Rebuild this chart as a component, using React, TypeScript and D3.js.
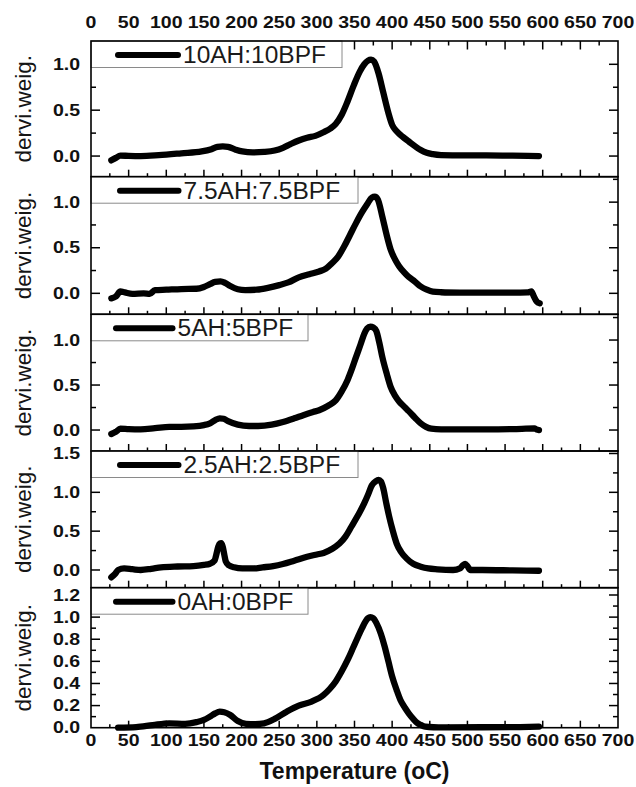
import React from 'react';
import * as d3 from 'd3';

// ---------- data ----------
const seriesNames = ['10AH:10BPF', '7.5AH:7.5BPF', '5AH:5BPF', '2.5AH:2.5BPF', '0AH:0BPF'];

const xTickLabels = [0, 50, 100, 150, 200, 250, 300, 350, 400, 450, 500, 550, 600, 650, 700];

const t10 = [27, 33, 39, 50, 66, 90, 120, 147, 160, 168, 175, 182, 192, 201, 215, 230, 244, 255, 265, 276, 287, 298, 309, 318, 325, 333, 341, 349, 357, 363, 368, 372, 376, 382, 388, 395, 400, 406, 414, 422, 430, 438, 446, 454, 465, 480, 525, 560, 595];
const v10 = [-0.047, -0.02, 0.005, 0.002, 0.0, 0.01, 0.03, 0.05, 0.075, 0.1, 0.105, 0.1, 0.07, 0.05, 0.04, 0.045, 0.06, 0.09, 0.13, 0.17, 0.2, 0.22, 0.26, 0.3, 0.35, 0.45, 0.6, 0.77, 0.92, 1.0, 1.04, 1.05, 1.03, 0.9, 0.7, 0.47, 0.34, 0.27, 0.21, 0.16, 0.11, 0.065, 0.035, 0.02, 0.01, 0.008, 0.007, 0.004, 0.0];

const t75 = [27, 33, 39, 45, 55, 70, 78, 85, 100, 120, 140, 150, 158, 165, 172, 178, 185, 195, 205, 220, 235, 250, 262, 276, 290, 303, 312, 320, 328, 336, 344, 352, 360, 367, 373, 377, 381, 387, 393, 398, 404, 409, 416, 422, 430, 438, 446, 454, 465, 490, 525, 560, 580, 585, 588, 592, 596];
const v75 = [-0.055, -0.035, 0.02, 0.01, -0.005, 0.0, -0.005, 0.035, 0.04, 0.047, 0.05, 0.07, 0.1, 0.125, 0.13, 0.115, 0.08, 0.045, 0.035, 0.04, 0.06, 0.09, 0.12, 0.175, 0.21, 0.24, 0.27, 0.33, 0.4, 0.51, 0.64, 0.77, 0.89, 0.98, 1.05, 1.06, 1.03, 0.84, 0.63, 0.48, 0.37, 0.3, 0.23, 0.18, 0.13, 0.075, 0.04, 0.018, 0.012, 0.008, 0.007, 0.007, 0.01, 0.02, -0.03, -0.09, -0.11];

const t5 = [27, 33, 39, 50, 66, 85, 104, 120, 136, 150, 158, 165, 171, 176, 182, 195, 210, 222, 240, 255, 270, 282, 295, 303, 315, 325, 333, 341, 347, 352, 358, 363, 367, 371, 375, 379, 383, 387, 393, 398, 404, 409, 416, 422, 430, 438, 445, 452, 465, 490, 525, 560, 589, 592, 595];
const v5 = [-0.044, -0.02, 0.015, 0.01, 0.007, 0.02, 0.035, 0.035, 0.04, 0.055, 0.075, 0.11, 0.13, 0.125, 0.1, 0.06, 0.045, 0.045, 0.06, 0.09, 0.13, 0.165, 0.2, 0.22, 0.27, 0.33, 0.43, 0.56, 0.69, 0.81, 0.95, 1.07, 1.13, 1.15, 1.14, 1.1, 0.97, 0.81, 0.62, 0.48, 0.38, 0.32, 0.26, 0.21, 0.14, 0.074, 0.035, 0.015, 0.008, 0.007, 0.007, 0.01, 0.018, 0.005, 0.0];

const t25 = [27, 32, 36, 44, 55, 66, 80, 93, 115, 136, 150, 158, 164, 167, 169, 171, 173, 175, 177, 179, 183, 190, 201, 215, 228, 242, 255, 270, 287, 300, 309, 320, 330, 338, 346, 355, 363, 368, 373, 378, 382, 385, 388, 392, 396, 401, 406, 412, 419, 428, 438, 448, 460, 481, 490, 494, 497, 500, 504, 520, 560, 595];
const v25 = [-0.094, -0.05, 0.0, 0.02, 0.01, 0.0, 0.015, 0.034, 0.045, 0.05, 0.065, 0.08, 0.12, 0.22, 0.3, 0.34, 0.345, 0.3, 0.2, 0.11, 0.06, 0.035, 0.02, 0.02, 0.034, 0.05, 0.077, 0.12, 0.17, 0.2, 0.22, 0.27, 0.34, 0.43, 0.56, 0.71, 0.86, 0.97, 1.09, 1.14, 1.16, 1.14, 1.06, 0.87, 0.69, 0.5, 0.34, 0.23, 0.15, 0.08, 0.043, 0.02, 0.009, 0.0, 0.02, 0.06, 0.077, 0.05, 0.0, 0.0, -0.005, -0.01];

const t0 = [36, 60, 82, 104, 125, 140, 150, 158, 165, 171, 177, 185, 195, 206, 218, 230, 244, 260, 276, 293, 309, 317, 325, 333, 341, 348, 355, 360, 365, 368, 371, 375, 379, 385, 390, 395, 400, 406, 411, 417, 422, 428, 433, 438, 444, 455, 471, 520, 570, 595];
const v0 = [0.0, 0.005, 0.024, 0.04, 0.035, 0.05, 0.07, 0.1, 0.13, 0.145, 0.14, 0.115, 0.06, 0.035, 0.033, 0.04, 0.08, 0.145, 0.2, 0.236, 0.297, 0.35, 0.418, 0.51, 0.615, 0.72, 0.827, 0.9, 0.964, 0.99, 1.0, 0.99, 0.948, 0.85, 0.736, 0.6, 0.464, 0.34, 0.25, 0.18, 0.13, 0.08, 0.045, 0.025, 0.009, 0.004, 0.003, 0.004, 0.006, 0.009];

const seriesT = [t10, t75, t5, t25, t0];
const seriesV = [v10, v75, v5, v25, v0];

const yMajorTicks = [
  [0, 0.5, 1.0],
  [0, 0.5, 1.0],
  [0, 0.5, 1.0],
  [0, 0.5, 1.0, 1.5],
  [0, 0.2, 0.4, 0.6, 0.8, 1.0, 1.2],
];
const yMinorStep = [0.25, 0.25, 0.25, 0.25, 0.1];
const yDomains = [
  [-0.225, 1.254],
  [-0.23, 1.279],
  [-0.233, 1.286],
  [-0.228, 1.532],
  [0, 1.266],
];

// ---------- layout ----------
const W = 636;
const H = 787;
const LEFT = 91;
const RIGHT = 618;
const EDGES = [41, 176.7, 314.3, 451, 587.7, 727.7];
const LEG_RIGHT = [342, 358, 308, 358, 308];
const LEG_LINE = [[118, 178], [120, 178.5], [116, 172.5], [120, 178.5], [116, 172.5]];
const FONT = '"Liberation Sans", Arial, Helvetica, sans-serif';
const TICK_FS = 16;
const TICK_SX = 1.22;

const x = d3.scaleLinear().domain([0, 700]).range([LEFT, RIGHT]);
const xMinor = d3.range(0, 701, 25);

function fmtY(v: number) {
  return d3.format('.1f')(v);
}

function StretchText(props: { x: number; y: number; sx: number; children: any; anchor?: string; fs: number; weight?: any; fill?: string }) {
  return (
    <text
      transform={`translate(${props.x},${props.y}) scale(${props.sx},1)`}
      textAnchor={props.anchor || 'middle'}
      fontFamily={FONT}
      fontSize={props.fs}
      fontWeight={props.weight || 'bold'}
      fill={props.fill || '#111'}
    >
      {props.children}
    </text>
  );
}

function Panel({ i }: { i: number }) {
  const top = EDGES[i];
  const bottom = EDGES[i + 1];
  const y = d3.scaleLinear().domain(yDomains[i]).range([bottom, top]);
  const line = d3
    .line<number>()
    .x((_, k) => x(seriesT[i][k]))
    .y((d) => y(d))
    .curve(d3.curveMonotoneX);
  const [d0, d1] = yDomains[i];
  const step = yMinorStep[i];
  const minors: number[] = [];
  for (let v = Math.ceil(d0 / step) * step; v <= d1 + 1e-9; v += step) {
    minors.push(Math.round(v * 1000) / 1000);
  }
  const isMajor = (v: number) => yMajorTicks[i].some((m) => Math.abs(m - v) < 1e-6);
  const ticks: any[] = [];
  minors.forEach((v, k) => {
    const yy = y(v);
    if (yy < top + 1.5 || yy > bottom - 1.5) return;
    const len = isMajor(v) ? 9 : 5;
    ticks.push(<line key={'l' + k} x1={LEFT} x2={LEFT + len} y1={yy} y2={yy} stroke="#000" strokeWidth={1.5} />);
    ticks.push(<line key={'r' + k} x1={RIGHT} x2={RIGHT - len} y1={yy} y2={yy} stroke="#000" strokeWidth={1.5} />);
  });
  xMinor.forEach((t, k) => {
    const xx = x(t);
    if (xx < LEFT + 1.5 || xx > RIGHT - 1.5) return;
    const maj = t % 50 === 0;
    ticks.push(<line key={'b' + k} x1={xx} x2={xx} y1={bottom} y2={bottom - (maj ? 7 : 3.5)} stroke="#000" strokeWidth={1.5} />);
    if (i === 0) {
      ticks.push(<line key={'t' + k} x1={xx} x2={xx} y1={top} y2={top + (maj ? 8.5 : 4.5)} stroke="#000" strokeWidth={1.5} />);
    }
  });
  const [lx1, lx2] = LEG_LINE[i];
  return (
    <g>
      {ticks}
      <path d={line(seriesV[i]) || ''} fill="none" stroke="#000" strokeWidth={6.3} strokeLinejoin="round" strokeLinecap="round" />
      <rect x={LEFT} y={top} width={LEG_RIGHT[i] - LEFT} height={26.5} fill="#fff" stroke="#8a8a8a" strokeWidth={1} />
      <line x1={lx1} x2={lx2} y1={top + 14} y2={top + 14} stroke="#000" strokeWidth={6} strokeLinecap="round" />
      <text x={lx2 + 5} y={top + 22} fontFamily={FONT} fontSize={24.5} fill="#1a1a1a">
        {seriesNames[i]}
      </text>
      {yMajorTicks[i].map((v, k) => (
        <StretchText key={'yl' + k} x={80} y={y(v) + 5.7} sx={TICK_SX} fs={TICK_FS} anchor="end">
          {fmtY(v)}
        </StretchText>
      ))}
      <text
        transform={`translate(30.5,${(top + bottom) / 2}) rotate(-90)`}
        textAnchor="middle"
        fontFamily={FONT}
        fontSize={22.5}
        fill="#151515"
      >
        dervi.weig.
      </text>
      <rect x={LEFT} y={top} width={RIGHT - LEFT} height={bottom - top} fill="none" stroke="#000" strokeWidth={1.6} />
    </g>
  );
}

export default function App() {
  return (
    <svg
      width={W}
      height={H}
      viewBox={`0 0 ${W} ${H}`}
      style={{ position: 'absolute', left: 0, top: 0, background: '#fff', display: 'block' }}
    >
      <rect x={0} y={0} width={W} height={H} fill="#fff" />
      {seriesNames.map((_, i) => (
        <Panel key={i} i={i} />
      ))}
      {xTickLabels.map((t) => (
        <StretchText key={'tx' + t} x={x(t)} y={28} sx={TICK_SX} fs={TICK_FS}>
          {t}
        </StretchText>
      ))}
      {xTickLabels.map((t) => (
        <StretchText key={'bx' + t} x={x(t)} y={746} sx={TICK_SX} fs={TICK_FS}>
          {t}
        </StretchText>
      ))}
      <text x={(LEFT + RIGHT) / 2} y={779} textAnchor="middle" fontFamily={FONT} fontSize={23} fontWeight="bold" fill="#111">
        Temperature (oC)
      </text>
    </svg>
  );
}
